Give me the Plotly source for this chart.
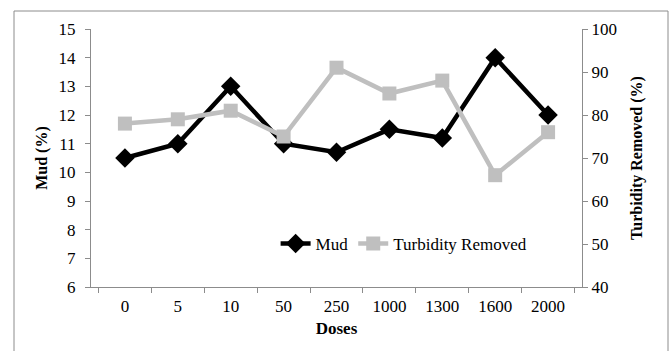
import plotly.graph_objects as go

doses = ["0", "5", "10", "50", "250", "1000", "1300", "1600", "2000"]
mud = [10.5, 11.0, 13.0, 11.0, 10.7, 11.5, 11.2, 14.0, 12.0]
turbidity = [78, 79, 81, 75, 91, 85, 88, 66, 76]

font_family = "Liberation Serif, Times New Roman, serif"

fig = go.Figure()
fig.add_trace(go.Scatter(
    x=doses, y=mud, name="Mud", mode="lines+markers",
    line=dict(color="black", width=4.5),
    marker=dict(symbol="diamond", size=15, color="black"),
    yaxis="y",
))
fig.add_trace(go.Scatter(
    x=doses, y=turbidity, name="Turbidity Removed", mode="lines+markers",
    line=dict(color="#BFBFBF", width=4.5),
    marker=dict(symbol="square", size=14, color="#BFBFBF"),
    yaxis="y2",
))

axis_common = dict(
    showgrid=False, zeroline=False, showline=True, linecolor="#8c8c8c",
    linewidth=1, ticks="outside", ticklen=5, tickcolor="#8c8c8c",
    tickfont=dict(family=font_family, size=17, color="black"),
)

fig.update_layout(
    width=670, height=351,
    margin=dict(l=91, r=88, t=29, b=64),
    paper_bgcolor="white", plot_bgcolor="white",
    font=dict(family=font_family, color="black"),
    showlegend=True,
    legend=dict(
        orientation="h", x=0.376, y=0.167, xanchor="left", yanchor="middle",
        bgcolor="rgba(0,0,0,0)", font=dict(family=font_family, size=17),
        itemwidth=30, tracegroupgap=0,
    ),
    xaxis=dict(
        **axis_common, type="category", tickson="boundaries", ticklabelstandoff=4,
        title=dict(text="<b>Doses</b>", font=dict(family=font_family, size=17), standoff=6),
    ),
    yaxis=dict(
        **axis_common, range=[6, 15], dtick=1, ticklabelstandoff=6,
        title=dict(text="<b>Mud (%)</b>", font=dict(family=font_family, size=16), standoff=6),
    ),
    yaxis2=dict(
        **axis_common, range=[40, 100], dtick=10, overlaying="y", side="right",
        title=dict(text="<b>Turbidity Removed (%)</b>", font=dict(family=font_family, size=16), standoff=14),
    ),
    shapes=[dict(
        type="rect", xref="paper", yref="paper",
        x0=(14 - 91) / 491, x1=(668 - 91) / 491,
        y0=(287 - 364) / 258, y1=(287 - 11) / 258,
        line=dict(color="#8c8c8c", width=1), fillcolor="rgba(0,0,0,0)", layer="below",
    )],
)

fig.write_html("out.html")
